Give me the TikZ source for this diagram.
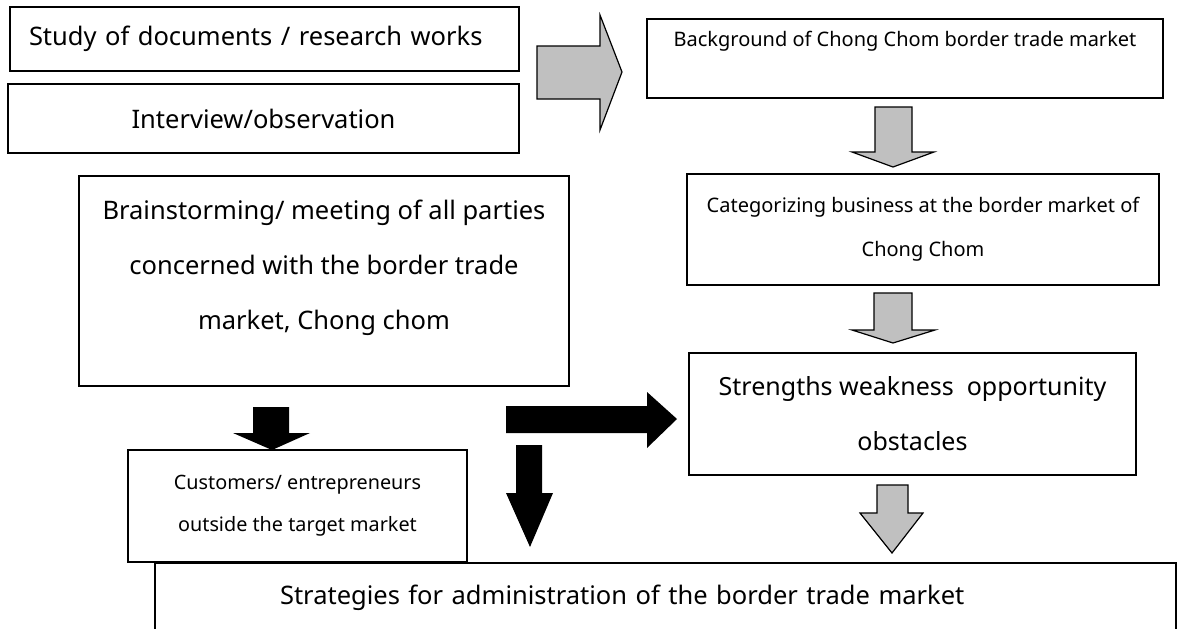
\documentclass[tikz,border=0pt]{standalone}
\usepackage{fontspec}
\setmainfont{Noto Sans}
\usetikzlibrary{positioning,calc}
\definecolor{arrowgray}{HTML}{C0C0C0}

\tikzset{
  box/.style={draw, line width=1.3pt, inner sep=0pt, align=center},
  bigtext/.style={font=\fontsize{25.5}{55}\selectfont},
  smalltext/.style={font=\fontsize{20}{44}\selectfont},
  grayarrow/.style={draw, fill=arrowgray, line width=1.2pt, line join=miter},
  blackarrow/.style={fill=black},
}

\begin{document}
\begin{tikzpicture}[x=1pt, y=-1pt]
\useasboundingbox (0,0) rectangle (1181,629);

% Boxes
\node (study) [box, bigtext, align=left, text width=471pt, inner xsep=19pt, minimum height=64pt] at (264.5,39) {Study of documents / research works};
\node (interview) [box, bigtext, minimum width=511pt, minimum height=69pt] at (263.5,118.5) {Interview/observation};
\node (backgr) [box, smalltext, minimum width=516pt, text height=27pt, text depth=52pt] at (905,58.5) {Background of Chong Chom border trade market};
\node (categ) [box, smalltext, minimum width=472pt, minimum height=111pt] at (923,229.5) {Categorizing business at the border market of\\Chong Chom};
\node (brain) [box, bigtext, minimum width=490pt, text height=153pt, text depth=57pt] at (324,281) {Brainstorming/ meeting of all parties\\concerned with the border trade\\market, Chong chom};
\node (cust) [box, smalltext, font=\fontsize{19.8}{42}\selectfont, minimum width=339pt, minimum height=112pt] at (297.5,506) {Customers/ entrepreneurs\\outside the target market};
\node (swot) [box, bigtext, font=\fontsize{25}{55}\selectfont, minimum width=447pt, minimum height=122pt] at (912.5,414) {Strengths weakness\ \ opportunity\\obstacles};
\node (strat) [box, bigtext, align=left, text width=771pt, inner xsep=125pt, text height=41pt, text depth=41pt] at (665.5,604) {Strategies for administration of the border trade market};

% Gray arrows
\draw[grayarrow] (537,46) -- (600,46) -- (600,15) -- (622,72) -- (600,130) -- (600,99) -- (537,99) -- cycle;
\draw[grayarrow] (875,107) -- (912,107) -- (912,152) -- (934,152) -- (893,167) -- (852,152) -- (875,152) -- cycle;
\draw[grayarrow] (874,293) -- (912,293) -- (912,330) -- (935,330) -- (893,343) -- (852,330) -- (874,330) -- cycle;
\draw[grayarrow] (877,485) -- (908,485) -- (908,513) -- (923,513) -- (892,553) -- (860,513) -- (877,513) -- cycle;

% Black arrows
\fill[blackarrow] (253,407) -- (289,407) -- (289,433) -- (310,433) -- (272,450) -- (233,433) -- (253,433) -- cycle;
\fill[blackarrow] (506,406) -- (647,406) -- (647,392) -- (677,419) -- (647,448) -- (647,433) -- (506,433) -- cycle;
\fill[blackarrow] (516,445) -- (542,445) -- (542,493) -- (553,493) -- (530,547) -- (506,493) -- (516,493) -- cycle;

\end{tikzpicture}
\end{document}
